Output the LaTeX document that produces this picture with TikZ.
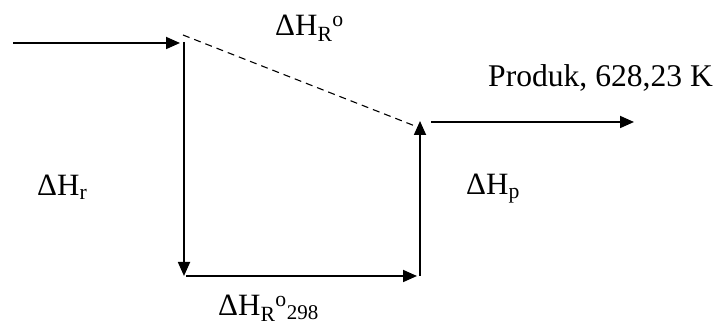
\documentclass[tikz,border=0pt]{standalone}
\usepackage{fontspec}
\setmainfont{Liberation Serif}
\usetikzlibrary{arrows.meta}
\begin{document}
\begin{tikzpicture}[x=1pt,y=-1pt,
  flow/.style={line width=1.8pt,-{Triangle[length=14pt,width=12pt]}},
  dash line/.style={line width=1.1pt,dash pattern=on 7pt off 5pt},
  lbl/.style={inner sep=0pt,anchor=base west,font=\fontsize{31}{35}\selectfont}]
\useasboundingbox (0,0) rectangle (718,328);
\coordinate (inS) at (13,43);
\coordinate (inE) at (180,43);
\coordinate (tl) at (184,42);
\coordinate (tlD) at (183,35);
\coordinate (bl) at (184,276);
\coordinate (bl2) at (186,276);
\coordinate (br) at (417,276);
\coordinate (br2) at (420,276);
\coordinate (tr) at (420,121);
\coordinate (trD) at (415,126);
\coordinate (outS) at (431,122);
\coordinate (outE) at (634,122);
\draw[flow] (inS) -- (inE);
\draw[flow] (tl) -- (bl);
\draw[flow] (bl2) -- (br);
\draw[flow] (br2) -- (tr);
\draw[flow] (outS) -- (outE);
\draw[dash line] (tlD) -- (trD);
\node[lbl] (hR) at (275,36) {ΔH\textsubscript{R}\textsuperscript{o}};
\node[lbl,font=\fontsize{31.6}{36}\selectfont] (prod) at (488,87) {Produk, 628,23 K};
\node[lbl] (hr) at (37,196) {ΔH\textsubscript{r}};
\node[lbl] (hp) at (466,195) {ΔH\textsubscript{p}};
\node[lbl] (h298) at (218,316) {ΔH\textsubscript{R}\textsuperscript{o}\raisebox{-0.12em}{\fontsize{21}{24}\selectfont 298}};
\end{tikzpicture}
\end{document}
